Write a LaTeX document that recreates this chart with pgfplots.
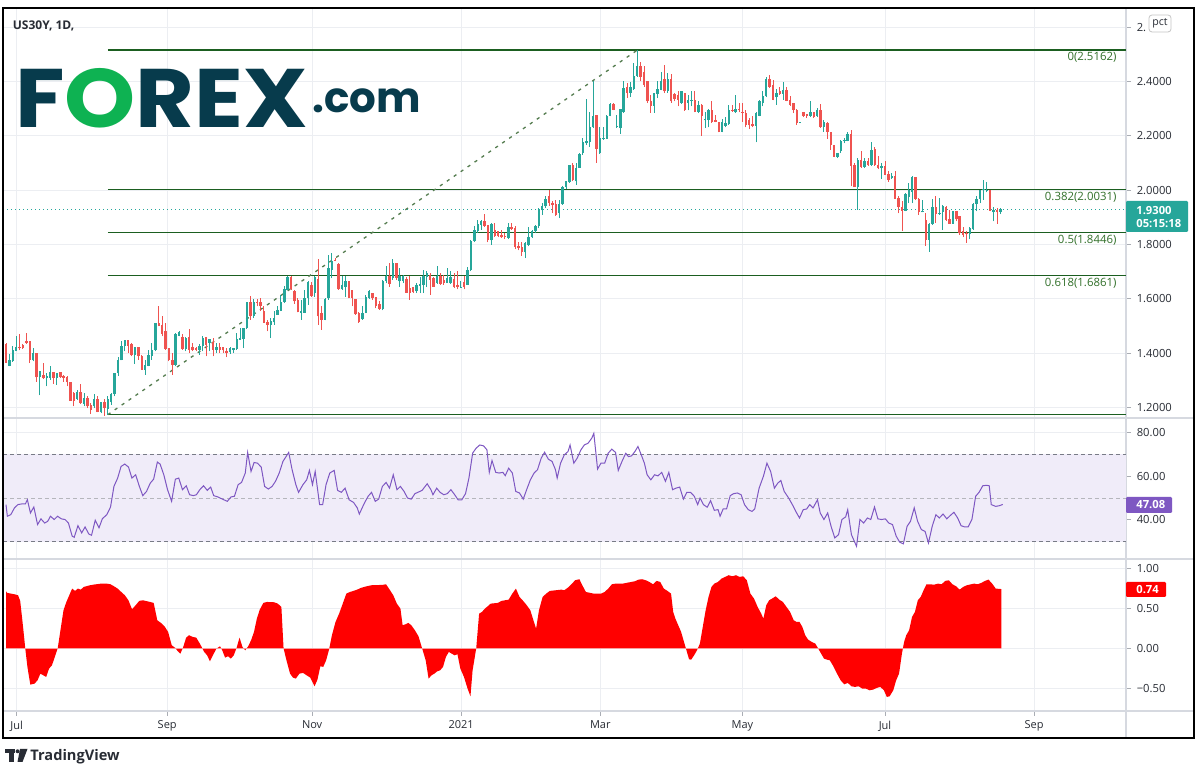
\documentclass[border=0pt]{standalone}
\usepackage{pgfplots}
\pgfplotsset{compat=1.18}
\usepackage{pgfplotstable}
\usepackage{fontspec}
\setmainfont{Open Sans}
\newfontfamily\logofont{Poppins}
\definecolor{upc}{HTML}{26A69A}
\definecolor{dnc}{HTML}{EF5350}
\definecolor{fibline}{RGB}{27,94,32}
\definecolor{fibtxt}{RGB}{50,112,42}
\definecolor{trendc}{RGB}{85,125,80}
\definecolor{gridc}{RGB}{236,238,242}
\definecolor{sepc}{RGB}{214,217,224}
\definecolor{tickc}{RGB}{170,173,180}
\definecolor{txtc}{RGB}{40,44,52}
\definecolor{rsic}{HTML}{7E57C2}
\definecolor{rsiband}{RGB}{240,236,249}
\definecolor{dashc}{HTML}{787B86}
\definecolor{corrc}{RGB}{255,0,0}
\definecolor{zeroc}{RGB}{246,160,160}
\definecolor{logoblue}{RGB}{7,59,76}
\definecolor{logogreen}{RGB}{14,178,82}

\pgfplotstableread{
i o h l c
0 1.434 1.437 1.363 1.365
1 1.353 1.396 1.351 1.373
2 1.369 1.427 1.367 1.412
3 1.408 1.461 1.406 1.424
4 1.422 1.470 1.410 1.417
5 1.429 1.434 1.415 1.417
6 1.443 1.474 1.434 1.437
7 1.443 1.443 1.363 1.373
8 1.373 1.418 1.369 1.400
9 1.400 1.400 1.295 1.310
10 1.310 1.335 1.244 1.335
11 1.320 1.363 1.304 1.308
12 1.308 1.328 1.277 1.314
13 1.308 1.353 1.301 1.330
14 1.330 1.330 1.287 1.308
15 1.308 1.328 1.283 1.328
16 1.330 1.330 1.308 1.310
17 1.314 1.320 1.295 1.308
18 1.310 1.314 1.277 1.293
19 1.295 1.295 1.225 1.225
20 1.252 1.258 1.203 1.225
21 1.231 1.265 1.228 1.257
22 1.257 1.287 1.213 1.215
23 1.213 1.252 1.203 1.236
24 1.234 1.242 1.197 1.203
25 1.207 1.215 1.175 1.191
26 1.203 1.250 1.197 1.230
27 1.231 1.240 1.181 1.182
28 1.181 1.221 1.178 1.221
29 1.218 1.230 1.168 1.197
30 1.194 1.240 1.173 1.230
31 1.219 1.252 1.209 1.248
32 1.250 1.328 1.240 1.326
33 1.326 1.385 1.317 1.373
34 1.373 1.443 1.373 1.427
35 1.427 1.449 1.406 1.447
36 1.449 1.449 1.400 1.427
37 1.434 1.437 1.388 1.391
38 1.391 1.424 1.360 1.422
39 1.422 1.424 1.375 1.388
40 1.390 1.394 1.338 1.338
41 1.338 1.375 1.320 1.357
42 1.353 1.412 1.351 1.394
43 1.388 1.437 1.375 1.412
44 1.412 1.511 1.406 1.511
45 1.511 1.574 1.498 1.501
46 1.504 1.535 1.461 1.471
47 1.480 1.511 1.412 1.415
48 1.418 1.418 1.369 1.373
49 1.375 1.400 1.320 1.357
50 1.357 1.474 1.351 1.470
51 1.464 1.480 1.461 1.476
52 1.459 1.470 1.412 1.415
53 1.415 1.458 1.406 1.455
54 1.459 1.488 1.400 1.412
55 1.421 1.437 1.406 1.412
56 1.418 1.424 1.406 1.412
57 1.412 1.434 1.394 1.427
58 1.427 1.461 1.406 1.455
59 1.458 1.458 1.388 1.431
60 1.437 1.451 1.406 1.451
61 1.439 1.455 1.388 1.412
62 1.412 1.437 1.400 1.424
63 1.424 1.437 1.400 1.412
64 1.422 1.424 1.400 1.410
65 1.408 1.418 1.385 1.400
66 1.402 1.422 1.397 1.418
67 1.412 1.418 1.400 1.418
68 1.415 1.474 1.412 1.453
69 1.449 1.492 1.449 1.454
70 1.453 1.492 1.418 1.492
71 1.492 1.589 1.488 1.589
72 1.589 1.609 1.523 1.535
73 1.535 1.599 1.529 1.589
74 1.589 1.599 1.572 1.584
75 1.587 1.603 1.554 1.572
76 1.554 1.572 1.511 1.511
77 1.513 1.523 1.480 1.504
78 1.504 1.529 1.455 1.517
79 1.513 1.554 1.504 1.529
80 1.541 1.572 1.541 1.560
81 1.556 1.615 1.554 1.588
82 1.588 1.648 1.584 1.636
83 1.634 1.685 1.631 1.679
84 1.679 1.685 1.634 1.637
85 1.627 1.634 1.582 1.590
86 1.597 1.603 1.550 1.550
87 1.549 1.596 1.522 1.555
88 1.549 1.633 1.547 1.602
89 1.602 1.666 1.578 1.660
90 1.651 1.660 1.608 1.611
91 1.621 1.685 1.608 1.682
92 1.672 1.747 1.504 1.535
93 1.547 1.572 1.485 1.522
94 1.522 1.602 1.520 1.600
95 1.602 1.762 1.596 1.713
96 1.707 1.768 1.676 1.738
97 1.744 1.750 1.738 1.740
98 1.729 1.731 1.633 1.635
99 1.635 1.685 1.633 1.651
100 1.645 1.685 1.608 1.664
101 1.664 1.664 1.602 1.602
102 1.633 1.633 1.572 1.602
103 1.600 1.600 1.541 1.543
104 1.547 1.553 1.512 1.516
105 1.525 1.572 1.522 1.549
106 1.549 1.615 1.547 1.605
107 1.602 1.633 1.599 1.627
108 1.623 1.623 1.596 1.602
109 1.605 1.608 1.565 1.572
110 1.580 1.590 1.559 1.562
111 1.562 1.670 1.557 1.666
112 1.666 1.719 1.658 1.685
113 1.685 1.731 1.645 1.654
114 1.676 1.748 1.670 1.731
115 1.731 1.731 1.670 1.676
116 1.664 1.713 1.645 1.685
117 1.666 1.688 1.658 1.685
118 1.672 1.682 1.621 1.623
119 1.639 1.685 1.596 1.623
120 1.643 1.645 1.621 1.624
121 1.627 1.658 1.621 1.651
122 1.648 1.682 1.621 1.655
123 1.651 1.707 1.621 1.685
124 1.682 1.701 1.643 1.695
125 1.688 1.695 1.615 1.670
126 1.676 1.682 1.645 1.645
127 1.658 1.722 1.655 1.685
128 1.685 1.695 1.651 1.655
129 1.670 1.688 1.651 1.658
130 1.658 1.713 1.658 1.676
131 1.658 1.701 1.655 1.679
132 1.674 1.695 1.639 1.643
133 1.651 1.701 1.635 1.645
134 1.643 1.664 1.643 1.645
135 1.660 1.685 1.635 1.645
136 1.651 1.717 1.651 1.707
137 1.707 1.818 1.701 1.814
138 1.814 1.869 1.811 1.854
139 1.848 1.891 1.842 1.877
140 1.873 1.891 1.854 1.885
141 1.885 1.913 1.864 1.869
142 1.873 1.873 1.808 1.815
143 1.815 1.881 1.799 1.877
144 1.854 1.879 1.827 1.832
145 1.851 1.851 1.827 1.832
146 1.836 1.854 1.824 1.827
147 1.832 1.842 1.820 1.826
148 1.824 1.881 1.820 1.864
149 1.864 1.881 1.854 1.858
150 1.859 1.867 1.783 1.790
151 1.793 1.808 1.778 1.787
152 1.790 1.811 1.758 1.774
153 1.771 1.808 1.750 1.805
154 1.799 1.864 1.793 1.827
155 1.827 1.854 1.824 1.848
156 1.848 1.873 1.842 1.867
157 1.867 1.934 1.860 1.928
158 1.926 1.953 1.910 1.941
159 1.941 1.977 1.934 1.969
160 1.980 2.002 1.943 1.953
161 1.953 1.959 1.916 1.947
162 1.949 1.965 1.906 1.910
163 1.916 1.965 1.897 1.949
164 1.949 2.014 1.947 2.011
165 2.011 2.035 2.004 2.033
166 2.029 2.094 2.027 2.094
167 2.094 2.100 2.033 2.036
168 2.033 2.100 2.020 2.082
169 2.082 2.137 2.082 2.135
170 2.137 2.192 2.130 2.176
171 2.173 2.336 2.167 2.183
172 2.176 2.290 2.161 2.232
173 2.232 2.401 2.229 2.274
174 2.278 2.278 2.102 2.152
175 2.137 2.232 2.134 2.192
176 2.189 2.232 2.186 2.194
177 2.189 2.278 2.188 2.274
178 2.274 2.321 2.272 2.319
179 2.317 2.323 2.294 2.296
180 2.232 2.278 2.229 2.237
181 2.229 2.299 2.208 2.299
182 2.290 2.401 2.284 2.376
183 2.379 2.395 2.339 2.358
184 2.358 2.397 2.343 2.382
185 2.373 2.469 2.370 2.422
186 2.422 2.516 2.417 2.459
187 2.456 2.471 2.401 2.419
188 2.434 2.456 2.382 2.389
189 2.403 2.403 2.321 2.327
190 2.330 2.352 2.286 2.311
191 2.311 2.358 2.286 2.358
192 2.355 2.401 2.339 2.373
193 2.370 2.434 2.368 2.403
194 2.409 2.462 2.358 2.364
195 2.364 2.432 2.360 2.409
196 2.409 2.428 2.323 2.327
197 2.355 2.358 2.327 2.336
198 2.352 2.364 2.309 2.333
199 2.321 2.364 2.319 2.364
200 2.360 2.360 2.293 2.294
201 2.321 2.352 2.294 2.333
202 2.330 2.364 2.309 2.333
203 2.333 2.364 2.287 2.290
204 2.290 2.327 2.284 2.315
205 2.315 2.317 2.200 2.272
206 2.257 2.290 2.229 2.262
207 2.260 2.299 2.232 2.296
208 2.296 2.327 2.247 2.250
209 2.260 2.278 2.250 2.253
210 2.253 2.253 2.213 2.216
211 2.216 2.262 2.213 2.250
212 2.237 2.269 2.232 2.247
213 2.245 2.315 2.241 2.294
214 2.296 2.315 2.290 2.293
215 2.287 2.352 2.284 2.300
216 2.300 2.321 2.287 2.296
217 2.290 2.323 2.253 2.287
218 2.284 2.296 2.232 2.241
219 2.260 2.266 2.225 2.241
220 2.243 2.272 2.232 2.237
221 2.237 2.287 2.176 2.284
222 2.274 2.333 2.272 2.327
223 2.321 2.364 2.309 2.348
224 2.346 2.419 2.343 2.409
225 2.409 2.426 2.376 2.382
226 2.389 2.405 2.331 2.333
227 2.343 2.373 2.315 2.360
228 2.366 2.379 2.352 2.355
229 2.355 2.398 2.333 2.370
230 2.370 2.382 2.327 2.330
231 2.333 2.346 2.311 2.315
232 2.323 2.323 2.284 2.296
233 2.296 2.299 2.241 2.247
234 2.247 2.253 2.247 2.252
235 2.287 2.287 2.269 2.274
236 2.280 2.280 2.266 2.272
237 2.274 2.327 2.269 2.287
238 2.287 2.287 2.266 2.269
239 2.274 2.303 2.269 2.296
240 2.296 2.317 2.230 2.232
241 2.232 2.260 2.216 2.253
242 2.247 2.250 2.189 2.216
243 2.216 2.216 2.149 2.167
244 2.167 2.167 2.122 2.124
245 2.124 2.139 2.118 2.139
246 2.146 2.186 2.137 2.180
247 2.180 2.192 2.173 2.186
248 2.182 2.213 2.180 2.207
249 2.208 2.221 2.014 2.091
250 2.094 2.100 2.011 2.011
251 2.011 2.118 1.928 2.112
252 2.112 2.143 2.081 2.085
253 2.085 2.118 2.081 2.109
254 2.109 2.118 2.090 2.094
255 2.094 2.176 2.090 2.149
256 2.153 2.159 2.090 2.094
257 2.094 2.127 2.078 2.081
258 2.081 2.100 2.042 2.088
259 2.088 2.106 2.057 2.057
260 2.061 2.069 2.032 2.038
261 2.045 2.063 2.041 2.053
262 2.051 2.069 1.968 1.968
263 1.971 1.977 1.915 1.938
264 1.940 1.959 1.851 1.925
265 1.925 1.989 1.922 1.987
266 1.974 2.026 1.952 1.999
267 1.995 2.053 1.952 2.048
268 2.048 2.048 1.965 1.967
269 1.967 1.971 1.909 1.918
270 1.918 1.965 1.918 1.922
271 1.891 1.915 1.795 1.817
272 1.817 1.879 1.774 1.876
273 1.876 1.967 1.872 1.938
274 1.938 1.977 1.879 1.913
275 1.913 1.971 1.909 1.915
276 1.918 1.946 1.854 1.942
277 1.940 1.942 1.887 1.891
278 1.893 1.928 1.876 1.876
279 1.876 1.922 1.876 1.922
280 1.922 1.922 1.885 1.893
281 1.906 1.906 1.836 1.842
282 1.848 1.866 1.827 1.835
283 1.842 1.848 1.807 1.838
284 1.838 1.866 1.819 1.860
285 1.856 1.952 1.854 1.950
286 1.949 1.977 1.922 1.967
287 1.967 2.002 1.952 1.999
288 1.999 2.036 1.965 2.004
289 1.999 2.032 1.992 2.002
290 1.999 2.002 1.922 1.925
291 1.918 1.938 1.885 1.928
292 1.928 1.934 1.876 1.918
293 1.920 1.934 1.912 1.930
}\candles

\pgfplotsset{
  panel/.style={
    scale only axis, width=561.5pt, anchor=south west,
    xmin=-0.884, xmax=330.0,
    axis line style={draw=sepc, line width=0.6pt},
    xmajorgrids, ymajorgrids,
    major grid style={draw=gridc, line width=0.5pt},
    xtick={3.15,47.5,90.2,134.1,175.1,217.0,259.0,302.9},
    ytick pos=right, yticklabel pos=right,
    tick align=outside, major tick length=2.5pt,
    tick style={draw=tickc, line width=0.5pt},
    yticklabel style={font=\fontsize{5.6}{6.5}\selectfont, text=txtc, anchor=west, inner sep=0pt, xshift=2.7pt},
  },
  upper/.style={xticklabels={}, xtick style={draw=none}},
}
\tikzset{fiblab/.style={anchor=north east, text=fibtxt, font=\fontsize{5.7}{6.5}\selectfont, inner sep=0pt, yshift=-1pt}}

\begin{document}
\begin{tikzpicture}
\begin{scope}[x=0.5pt,y=-0.5pt,yshift=387.5pt]
  \path[use as bounding box] (0,0) rectangle (1201,775);
  \fill[white] (0,0) rectangle (1201,775);
\end{scope}

% ---------------- price panel ----------------
\begin{axis}[panel, upper, at={(1.5pt,178.5pt)}, height=205pt,
  ymin=1.1606, ymax=2.6716,
  ytick={1.2,1.4,1.6,1.8,2.0,2.2,2.4,2.6},
  yticklabels={1.2000,1.4000,1.6000,1.8000,2.0000,2.2000,2.4000,2.}]
  % fibonacci levels
  \addplot[fibline, line width=0.75pt] coordinates {(30,2.5162) (330,2.5162)};
  \addplot[fibline, line width=0.75pt] coordinates {(30,2.0031) (330,2.0031)};
  \addplot[fibline, line width=0.75pt] coordinates {(30,1.8446) (330,1.8446)};
  \addplot[fibline, line width=0.75pt] coordinates {(30,1.6861) (330,1.6861)};
  \addplot[fibline, line width=0.75pt] coordinates {(30,1.1730) (330,1.1730)};
  \addplot[trendc, line width=0.65pt, dash pattern=on 1.6pt off 2.6pt] coordinates {(30,1.1730) (186,2.5162)};
  % last price line
  \addplot[upc, line width=0.6pt, dash pattern=on 0.7pt off 1.3pt] coordinates {(-0.884,1.930) (330,1.930)};
  % up candles
  \addplot[draw=none, forget plot, restrict expr to domain={\thisrow{c}-\thisrow{o}}{0:10},
    error bars/.cd, y dir=plus, y explicit, error mark=none,
    error bar style={draw=upc, line width=0.5pt, solid}]
    table[x=i, y=l, y error plus expr=\thisrow{h}-\thisrow{l}] {\candles};
  \addplot[draw=none, forget plot, restrict expr to domain={\thisrow{c}-\thisrow{o}}{0:10},
    error bars/.cd, y dir=plus, y explicit, error mark=none,
    error bar style={draw=upc, line width=1.2pt, solid}]
    table[x=i, y=o, y error plus expr=\thisrow{c}-\thisrow{o}] {\candles};
  % down candles
  \addplot[draw=none, forget plot, restrict expr to domain={\thisrow{c}-\thisrow{o}}{-10:-0.00001},
    error bars/.cd, y dir=plus, y explicit, error mark=none,
    error bar style={draw=dnc, line width=0.5pt, solid}]
    table[x=i, y=l, y error plus expr=\thisrow{h}-\thisrow{l}] {\candles};
  \addplot[draw=none, forget plot, restrict expr to domain={\thisrow{c}-\thisrow{o}}{-10:-0.00001},
    error bars/.cd, y dir=plus, y explicit, error mark=none,
    error bar style={draw=dnc, line width=1.2pt, solid}]
    table[x=i, y=c, y error plus expr=\thisrow{o}-\thisrow{c}] {\candles};
  \node[fiblab] at (axis cs:327.3,2.5162) {0(2.5162)};
  \node[fiblab] at (axis cs:327.3,2.0031) {0.382(2.0031)};
  \node[fiblab] at (axis cs:327.3,1.8446) {0.5(1.8446)};
  \node[fiblab] at (axis cs:327.3,1.6861) {0.618(1.6861)};
\end{axis}

% ---------------- RSI panel ----------------
\begin{axis}[panel, upper, at={(1.5pt,108pt)}, height=70.5pt,
  ymin=22.2, ymax=86.5, ytick={40,60,80}, yticklabels={40.00,60.00,80.00}]
  \addplot[fill=rsiband, draw=none] coordinates {(-0.884,30) (330,30) (330,70) (-0.884,70)};
  \addplot[dashc, line width=0.5pt, dash pattern=on 2pt off 1.5pt] coordinates {(-0.884,70) (330,70)};
  \addplot[dashc!55, line width=0.5pt, dash pattern=on 2pt off 1.5pt] coordinates {(-0.884,50) (330,50)};
  \addplot[dashc, line width=0.5pt, dash pattern=on 2pt off 1.5pt] coordinates {(-0.884,30) (330,30)};
  \addplot[rsic, line width=0.5pt] coordinates {
(0,47.0) (0.4,41.7) (1.4,42.4) (2.5,45.5) (3.5,47.0) (4.6,47.3) (5.7,47.3) (6.3,49.2) (7.2,43.2) (8.2,45.9) (9.3,37.9) (10.3,40.5) (11.4,38.6) (12.3,39.4) (13.1,41.7) (14.2,40.2) (15.2,41.7) (16.3,40.5) (17.4,40.2) (18.4,38.6) (19.5,32.6) (20.1,32.1) (21.2,37.4) (22.3,34.1) (23.3,36.8) (24.4,33.6) (25.2,33.0) (26.3,39.9) (27.4,36.4) (28.4,40.6) (29.7,42.4) (30.8,45.9) (31.8,55.3) (32.9,59.1) (33.9,64.4) (35.0,65.5) (36.1,64.1) (37.1,59.1) (38.2,60.6) (39.3,55.3) (40.3,51.1) (41.4,53.0) (42.5,56.8) (43.5,58.6) (44.6,66.4) (45.4,65.5) (46.5,60.6) (47.6,53.8) (48.8,48.5) (49.9,58.6) (50.9,59.1) (52.0,53.8) (53.1,55.6) (54.1,51.5) (55.2,51.1) (56.1,51.5) (57.1,53.8) (58.2,55.6) (59.3,53.5) (60.3,55.0) (61.2,51.1) (62.4,50.5) (63.5,49.7) (65.2,48.5) (66.3,50.5) (67.3,50.8) (68.4,56.1) (69.4,57.1) (70.5,61.4) (71.2,70.8) (72.2,62.1) (73.1,66.2) (74.1,65.9) (75.2,64.1) (76.2,55.3) (77.3,54.1) (78.4,55.3) (79.4,57.6) (80.5,61.4) (81.6,66.7) (83.3,70.8) (84.3,62.9) (85.4,56.1) (86.2,52.6) (87.5,56.1) (88.6,58.3) (89.4,62.6) (90.3,56.1) (91.1,62.1) (92.4,47.0) (93.3,47.0) (94.3,56.1) (95.4,61.4) (96.7,62.6) (97.7,53.5) (98.8,52.6) (99.9,54.5) (101.1,49.2) (102.4,48.0) (103.5,45.5) (104.1,42.7) (105.6,47.7) (106.7,50.8) (107.7,52.6) (108.8,48.5) (109.8,49.5) (110.9,55.3) (112.0,57.1) (113.0,54.5) (114.1,60.6) (115.2,53.8) (116.2,55.3) (117.3,53.0) (118.3,50.0) (119.4,49.5) (120.5,52.0) (121.5,52.7) (122.6,53.5) (124.1,56.5) (125.2,53.8) (125.8,51.5) (126.9,54.5) (127.9,52.6) (129.0,51.5) (130.0,52.0) (131.1,53.8) (132.2,51.5) (133.2,49.2) (134.3,49.2) (135.4,52.0) (136.4,59.1) (137.5,70.5) (138.5,72.7) (139.6,74.2) (140.7,73.8) (141.7,72.0) (142.4,61.7) (143.2,67.1) (144.3,61.7) (145.3,61.4) (146.4,61.7) (147.1,60.2) (148.1,63.6) (149.2,61.4) (150.2,53.0) (151.3,52.3) (152.4,49.5) (153.4,53.8) (154.5,58.3) (155.6,61.4) (156.6,62.9) (157.7,68.2) (158.7,70.9) (159.8,67.7) (160.9,66.7) (161.9,62.9) (162.4,59.1) (163.4,65.9) (164.5,69.7) (165.6,71.2) (166.2,74.2) (167.3,65.9) (168.3,68.2) (169.4,72.0) (170.4,74.2) (171.5,75.0) (172.6,77.3) (173.2,79.5) (174.3,63.2) (175.3,65.9) (176.4,65.9) (177.4,70.4) (178.5,72.3) (179.6,70.8) (180.4,62.6) (181.5,66.7) (182.6,70.4) (183.4,68.9) (184.3,69.2) (185.3,71.2) (186.2,73.5) (187.0,70.4) (188.1,65.9) (188.9,60.6) (190.0,58.3) (191.1,60.6) (192.1,60.1) (193.2,61.7) (194.3,57.6) (195.3,61.7) (196.4,53.8) (197.4,54.5) (198.5,55.0) (199.6,49.5) (200.6,52.6) (201.7,52.6) (202.8,50.8) (203.8,47.0) (204.5,50.0) (205.5,47.0) (206.6,45.8) (207.6,48.8) (208.7,44.4) (209.8,44.7) (210.4,41.7) (211.3,45.0) (212.3,45.0) (213.4,51.1) (214.4,52.0) (215.5,52.3) (216.6,51.5) (217.6,47.0) (218.7,44.7) (219.8,43.9) (220.6,45.0) (221.9,54.5) (223.2,60.1) (224.2,65.9) (225.3,62.1) (226.4,54.5) (227.4,56.8) (228.3,58.0) (229.3,53.0) (230.6,50.0) (231.7,47.0) (232.7,43.9) (233.8,40.9) (234.9,44.7) (235.9,45.0) (236.8,47.0) (237.8,45.5) (239.1,49.2) (239.9,43.2) (241.0,40.2) (242.1,43.2) (243.1,37.1) (244.2,31.8) (245.3,33.3) (246.3,40.2) (247.4,41.4) (248.0,44.7) (249.1,33.3) (250.6,28.0) (251.6,40.2) (252.7,38.6) (253.8,40.9) (254.8,40.2) (255.9,45.9) (256.9,40.5) (258.0,40.2) (259.1,40.5) (260.1,38.6) (261.2,37.9) (262.3,32.6) (263.3,29.9) (264.4,29.1) (265.5,37.1) (266.5,39.4) (267.6,45.5) (268.6,39.4) (269.7,35.6) (270.8,34.8) (271.8,29.5) (272.9,37.1) (274.0,42.4) (275.0,40.9) (276.1,42.7) (277.2,40.5) (278.2,42.0) (279.3,43.5) (280.4,40.9) (281.4,37.4) (282.5,36.8) (283.5,36.8) (284.6,40.2) (285.7,50.8) (286.7,52.6) (287.8,55.6) (288.9,55.8) (289.7,55.6) (290.3,47.0) (291.6,46.2) (292.7,46.5) (293.7,47.08)};
\end{axis}

% ---------------- correlation panel ----------------
\begin{axis}[panel, at={(1.5pt,32pt)}, height=76pt,
  ymin=-0.784, ymax=1.116, ytick={-0.5,0,0.5,1}, yticklabels={−0.50,0.00,0.50,1.00},
  xtick pos=bottom, xticklabels={Jul,Sep,Nov,2021,Mar,May,Jul,Sep},
  xticklabel style={font=\fontsize{5.5}{6.5}\selectfont, text=txtc, inner sep=0pt, yshift=-2.2pt}]
  \addplot[fill=corrc, draw=none] coordinates {
(0,0) (0,0.712) (0.36,0.692) (2.48,0.675) (3.55,0.663) (4.18,0.592) (5.03,0.267) (5.67,0) (6.31,-0.233) (7.16,-0.454) (8.43,-0.442) (9.29,-0.40) (10.14,-0.317) (10.99,-0.338) (11.84,-0.358) (12.69,-0.254) (13.54,-0.213) (14.39,-0.108) (15.24,0) (16.94,0.475) (17.79,0.579) (18.64,0.663) (19.49,0.746) (20.34,0.717) (21.19,0.746) (22.04,0.733) (22.89,0.767) (24.81,0.788) (25.87,0.796) (28.0,0.808) (29.7,0.808) (30.76,0.80) (31.82,0.775) (32.88,0.746) (33.95,0.704) (35.01,0.663) (36.07,0.60) (37.14,0.488) (38.2,0.538) (39.26,0.592) (40.32,0.60) (42.45,0.579) (43.51,0.567) (44.58,0.35) (45.64,0.317) (46.7,0.275) (47.77,0.204) (48.83,0.038) (49.89,0.004) (50.53,-0.033) (51.38,-0.067) (52.23,0.017) (53.08,0.133) (53.93,0.163) (54.99,0.142) (56.06,0.133) (57.12,0.058) (57.76,0.008) (58.4,-0.046) (59.25,-0.088) (60.1,-0.163) (60.95,-0.088) (62.01,-0.004) (63.07,0.025) (63.71,-0.025) (64.56,-0.117) (65.41,-0.10) (66.26,-0.129) (67.11,-0.088) (67.96,0.008) (68.81,0.133) (69.66,0.017) (70.51,-0.025) (71.36,0.025) (72.21,0.10) (73.07,0.204) (73.92,0.371) (74.77,0.483) (75.83,0.567) (76.89,0.579) (79.02,0.575) (80.08,0.558) (81.14,0.517) (81.78,0) (82.63,-0.15) (83.7,-0.317) (84.55,-0.367) (85.4,-0.379) (86.46,-0.317) (87.52,-0.308) (88.59,-0.338) (89.65,-0.367) (90.92,-0.475) (91.77,-0.392) (92.62,-0.225) (93.47,-0.233) (94.33,-0.15) (95.18,-0.017) (96.03,0.163) (97.09,0.329) (98.15,0.433) (99.22,0.558) (100.28,0.683) (101.34,0.704) (102.4,0.717) (103.47,0.733) (104.53,0.754) (105.59,0.767) (106.66,0.779) (107.72,0.788) (110.9,0.792) (111.97,0.80) (113.03,0.733) (114.1,0.663) (115.16,0.558) (116.22,0.496) (116.86,0.288) (117.71,0.30) (118.56,0.317) (119.41,0.288) (120.48,0.225) (121.54,0.15) (122.6,0) (123.66,-0.15) (124.51,-0.379) (125.36,-0.338) (126.22,-0.317) (127.07,-0.288) (127.92,-0.275) (128.77,-0.233) (129.62,-0.108) (130.47,-0.046) (131.32,-0.067) (132.17,-0.088) (133.02,-0.075) (133.87,-0.254) (134.93,-0.358) (136.0,-0.504) (136.85,-0.60) (137.48,-0.275) (138.55,0) (139.4,0.433) (140.25,0.454) (141.1,0.496) (141.95,0.525) (142.8,0.558) (144.92,0.567) (145.99,0.592) (147.05,0.60) (148.11,0.608) (149.18,0.683) (150.24,0.746) (151.3,0.642) (152.37,0.592) (153.43,0.538) (154.49,0.475) (155.55,0.329) (156.19,0.246) (157.04,0.475) (158.11,0.642) (159.17,0.683) (160.23,0.717) (161.93,0.725) (163.63,0.733) (164.48,0.725) (165.55,0.758) (166.61,0.80) (167.67,0.85) (168.95,0.863) (169.8,0.788) (170.86,0.704) (172.14,0.692) (173.2,0.683) (175.33,0.683) (176.39,0.704) (177.45,0.746) (178.52,0.80) (179.58,0.808) (181.71,0.808) (182.77,0.817) (184.26,0.829) (185.32,0.838) (186.38,0.858) (187.44,0.863) (188.51,0.85) (189.57,0.829) (190.63,0.80) (191.7,0.842) (192.76,0.829) (193.82,0.746) (194.89,0.717) (195.95,0.683) (196.59,0.454) (197.22,0.371) (198.07,0.288) (198.92,0.204) (199.77,0.079) (200.63,-0.046) (201.26,-0.138) (201.9,-0.142) (202.75,-0.088) (203.6,-0.025) (204.45,0.058) (205.3,0.267) (206.15,0.475) (207.0,0.642) (207.86,0.767) (208.71,0.808) (209.77,0.829) (210.83,0.871) (211.89,0.892) (212.96,0.913) (214.02,0.90) (215.08,0.913) (216.15,0.892) (217.21,0.90) (218.27,0.85) (219.33,0.683) (220.4,0.621) (221.46,0.517) (222.52,0.433) (223.16,0.371) (224.01,0.538) (224.86,0.60) (225.71,0.621) (226.78,0.65) (227.84,0.608) (228.9,0.579) (229.96,0.517) (231.03,0.454) (232.09,0.35) (232.94,0.329) (233.79,0.329) (234.64,0.267) (235.49,0.163) (236.34,0.108) (237.41,0.079) (238.47,0.058) (239.32,-0.004) (240.17,-0.067) (241.02,-0.129) (241.87,-0.142) (242.72,-0.15) (243.78,-0.225) (244.85,-0.317) (245.91,-0.40) (246.97,-0.45) (248.04,-0.433) (249.1,-0.475) (250.16,-0.483) (251.22,-0.475) (252.29,-0.504) (253.35,-0.504) (254.41,-0.525) (255.48,-0.517) (256.54,-0.496) (257.6,-0.483) (258.67,-0.525) (259.52,-0.608) (260.37,-0.60) (261.43,-0.525) (262.28,-0.40) (263.13,-0.317) (263.98,-0.067) (264.62,0.079) (265.25,0.163) (266.1,0.225) (266.96,0.392) (267.81,0.454) (268.66,0.60) (269.51,0.642) (270.36,0.725) (271.21,0.80) (273.55,0.796) (274.61,0.808) (275.67,0.80) (276.74,0.842) (277.8,0.85) (278.86,0.80) (279.93,0.775) (280.99,0.733) (282.05,0.767) (283.11,0.788) (285.24,0.808) (286.3,0.80) (287.37,0.817) (288.43,0.842) (289.49,0.858) (290.56,0.808) (291.62,0.746) (293.31,0.74) (293.31,0)};
  \addplot[zeroc, line width=0.6pt] coordinates {(0,0) (293.31,0)};
\end{axis}

% ---------------- overlays (pixel coordinates) ----------------
\begin{scope}[x=0.5pt,y=-0.5pt,yshift=387.5pt]
  \draw[sepc, line width=0.6pt] (1126,418) -- (1194,418);
  \draw[sepc, line width=0.6pt] (1126,559) -- (1194,559);
  \draw[sepc, line width=0.6pt] (1126,711) -- (1194,711);
  \draw[sepc, line width=0.6pt] (1126,711) -- (1126,738);
  \draw[black, line width=0.9pt] (3,8) rectangle (1194,738);
  % pct box
  \filldraw[fill=white, draw=gray!45, rounded corners=1.5pt, line width=0.4pt] (1149,15) rectangle (1171,32);
  \node[font=\fontsize{5.3}{6}\selectfont, text=txtc, inner sep=0pt] at (1160,23) {pct};
  % last price label
  \fill[upc, rounded corners=0.6pt] (1126,201) rectangle (1188,232);
  \node[anchor=west, text=white, font=\bfseries\fontsize{5.6}{6.5}\selectfont, inner sep=0pt] at (1136,210.5) {1.9300};
  \node[anchor=west, text=white, font=\bfseries\fontsize{5.6}{6.5}\selectfont, inner sep=0pt] at (1136,224) {05:15:18};
  % RSI label
  \fill[rsic, rounded corners=0.6pt] (1126,497) rectangle (1172,513);
  \node[anchor=west, text=white, font=\bfseries\fontsize{5.6}{6.5}\selectfont, inner sep=0pt] at (1136,505) {47.08};
  % correlation label
  \fill[corrc, rounded corners=0.6pt] (1126,582) rectangle (1166,597);
  \node[anchor=west, text=white, font=\bfseries\fontsize{5.6}{6.5}\selectfont, inner sep=0pt] at (1136,589.5) {0.74};
  % title
  \node[anchor=west, text=txtc, font=\bfseries\fontsize{6}{7}\selectfont, inner sep=0pt] at (12.5,26) {US30Y, 1D,};
  % FOREX.com watermark
  \node[anchor=base west, inner sep=0pt] at (15,128) {\scalebox{1.09}[1]{\logofont\bfseries\fontsize{41.5}{42}\selectfont\textcolor{logoblue}{F}\textcolor{logogreen}{O}\textcolor{logoblue}{REX}}};
  \node[anchor=base west, inner sep=0pt] at (312,113) {\logofont\bfseries\fontsize{21}{22}\selectfont\textcolor{logoblue}{.com}};
  % TradingView logo
  \fill[txtc] (5,749) rectangle (14.5,753.5);
  \fill[txtc] (9,749) rectangle (13.5,762);
  \fill[txtc] (17.6,751.3) circle[radius=2];
  \fill[txtc] (20,749) -- (27.5,749) -- (22.5,762) -- (17.5,762) -- cycle;
  \node[anchor=base west, inner sep=0pt, text=txtc, font=\bfseries\fontsize{7.3}{8}\selectfont] at (30,761) {TradingView};
\end{scope}
\end{tikzpicture}
\end{document}
